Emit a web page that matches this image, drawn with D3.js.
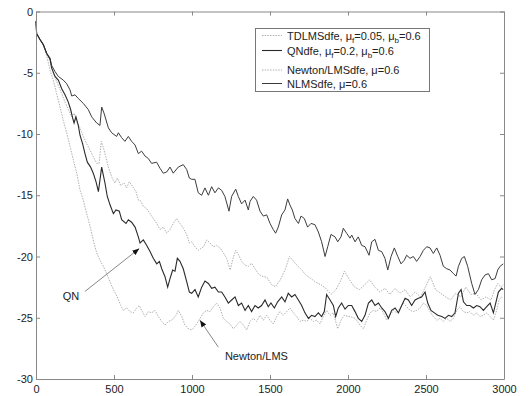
<!DOCTYPE html>
<html lang='en'>
<meta charset="utf-8">
<script src="https://d3js.org/d3.v7.min.js"></script>
<style>
body { margin: 0; background: #fff; }
text { font-family: "Liberation Sans", Arial, sans-serif; }
</style>
<body>
<svg id="chart" width="529" height="396"></svg>
<script>

// iteration axis and MSE axis ticks
var xTicks = [0, 500, 1000, 1500, 2000, 2500, 3000];
var yTicks = [0, -5, -10, -15, -20, -25, -30];

// curves, [iteration, dB]
var nlms = [[0,-0.8],[4,-1.8],[26,-2.3],[47,-2.7],[68,-3.4],[90,-3.8],[100,-4.4],[122,-4.9],[143,-5.3],[175,-5.6],[197,-5.9],[218,-6.4],[229,-6.9],[250,-6.8],[271,-7.1],[303,-7.5],[335,-8.0],[357,-8.6],[389,-9.1],[410,-9.3],[421,-7.8],[436,-8.3],[464,-9.5],[485,-9.9],[517,-10.2],[528,-9.9],[549,-10.3],[570,-10.6],[592,-10.2],[613,-10.6],[635,-10.9],[656,-11.6],[677,-11.4],[699,-11.8],[720,-12.0],[741,-12.4],[773,-12.3],[795,-12.8],[816,-13.2],[838,-13.1],[859,-12.7],[880,-13.2],[912,-12.7],[944,-12.5],[966,-12.9],[983,-13.6],[998,-13.7],[1019,-13.7],[1040,-14.8],[1062,-15.0],[1083,-14.4],[1105,-15.0],[1126,-14.3],[1147,-14.8],[1169,-14.4],[1190,-14.6],[1211,-15.1],[1237,-16.3],[1254,-15.1],[1280,-14.5],[1297,-15.1],[1318,-15.7],[1340,-15.4],[1361,-16.2],[1372,-15.5],[1393,-15.1],[1414,-15.4],[1436,-16.3],[1457,-16.7],[1479,-16.6],[1500,-17.3],[1521,-17.8],[1536,-18.1],[1553,-17.6],[1575,-16.6],[1596,-16.2],[1613,-15.3],[1628,-15.8],[1643,-16.2],[1660,-16.9],[1682,-17.3],[1699,-16.7],[1720,-16.9],[1741,-17.6],[1763,-17.3],[1788,-17.4],[1810,-18.0],[1831,-18.8],[1853,-20.0],[1870,-19.2],[1891,-18.2],[1917,-18.4],[1934,-18.8],[1955,-18.4],[1970,-17.7],[1991,-18.1],[2013,-18.5],[2024,-18.25],[2045,-18.8],[2066,-18.4],[2088,-19.1],[2109,-19.2],[2135,-19.9],[2152,-18.8],[2173,-18.6],[2195,-19.5],[2216,-19.6],[2237,-20.15],[2255,-21.1],[2276,-20.0],[2297,-19.3],[2319,-20.0],[2340,-20.6],[2361,-20.3],[2376,-19.9],[2398,-20.15],[2419,-20.0],[2440,-20.4],[2462,-20.0],[2483,-19.5],[2505,-19.2],[2526,-19.3],[2547,-19.75],[2569,-19.3],[2590,-19.9],[2611,-20.8],[2633,-21.0],[2654,-21.1],[2676,-21.4],[2693,-21.6],[2708,-20.8],[2729,-20.15],[2746,-20.0],[2767,-20.8],[2793,-22.2],[2814,-23.1],[2836,-22.7],[2857,-21.9],[2879,-21.5],[2900,-21.4],[2921,-21.9],[2943,-21.8],[2960,-21.1],[2975,-20.8],[2995,-20.6]];

var qn = [[0,-0.8],[4,-1.8],[26,-2.3],[47,-2.7],[68,-3.4],[90,-3.9],[100,-4.6],[122,-5.3],[143,-5.6],[165,-6.3],[186,-6.8],[207,-7.4],[222,-8.0],[235,-8.7],[244,-9.1],[256,-8.6],[271,-9.3],[282,-10.1],[299,-10.8],[314,-11.6],[329,-12.3],[350,-12.7],[367,-13.2],[385,-13.9],[400,-14.7],[421,-12.7],[442,-14.0],[457,-15.1],[475,-15.8],[496,-16.5],[513,-16.2],[534,-16.3],[549,-17.0],[577,-17.3],[592,-17.0],[613,-17.2],[635,-17.6],[656,-18.4],[667,-18.9],[688,-18.65],[710,-19.1],[731,-19.6],[752,-20.15],[774,-20.6],[791,-20.4],[806,-21.0],[827,-21.65],[844,-22.5],[859,-21.8],[876,-21.1],[891,-21.2],[906,-20.15],[923,-20.4],[944,-21.0],[966,-22.05],[983,-22.9],[998,-23.0],[1019,-22.7],[1040,-23.3],[1062,-22.5],[1083,-22.0],[1105,-22.2],[1126,-22.6],[1147,-22.5],[1169,-22.9],[1190,-22.9],[1211,-23.3],[1233,-23.8],[1254,-23.55],[1276,-23.3],[1297,-24.0],[1318,-23.8],[1340,-24.4],[1361,-24.0],[1382,-24.5],[1404,-24.0],[1425,-24.2],[1446,-24.0],[1468,-23.55],[1489,-24.1],[1506,-23.8],[1528,-24.2],[1549,-23.7],[1575,-23.3],[1596,-23.7],[1617,-23.0],[1639,-23.3],[1660,-23.1],[1682,-23.55],[1703,-24.0],[1724,-24.6],[1746,-25.05],[1767,-24.8],[1788,-24.9],[1810,-24.6],[1831,-24.9],[1848,-24.5],[1863,-23.1],[1885,-23.55],[1906,-24.0],[1921,-24.9],[1938,-24.2],[1959,-23.8],[1981,-24.3],[2002,-24.0],[2024,-24.0],[2045,-24.5],[2066,-25.05],[2088,-25.3],[2109,-24.8],[2131,-23.8],[2152,-23.55],[2173,-24.0],[2195,-23.8],[2216,-24.2],[2237,-24.5],[2259,-25.05],[2280,-24.4],[2302,-24.2],[2323,-24.6],[2344,-24.0],[2366,-23.4],[2387,-23.55],[2408,-24.0],[2430,-23.55],[2451,-23.4],[2472,-23.3],[2494,-22.9],[2511,-23.8],[2532,-24.4],[2554,-24.6],[2575,-24.8],[2601,-24.9],[2622,-25.05],[2644,-24.8],[2665,-24.9],[2686,-24.6],[2708,-23.0],[2725,-22.7],[2740,-23.7],[2761,-24.0],[2782,-24.0],[2804,-24.2],[2825,-24.0],[2846,-24.1],[2868,-24.4],[2889,-24.1],[2911,-23.8],[2932,-24.6],[2947,-23.8],[2964,-22.9],[2985,-22.6],[2995,-22.7]];

var newton = [[0,-0.8],[4,-1.8],[26,-2.3],[47,-2.8],[68,-3.6],[79,-4.2],[90,-4.8],[111,-5.6],[132,-6.7],[154,-7.8],[175,-8.9],[197,-9.9],[218,-11.0],[239,-12.1],[261,-13.2],[282,-14.57],[303,-15.4],[325,-16.5],[342,-17.3],[357,-18.1],[372,-18.9],[389,-19.7],[410,-20.3],[432,-20.8],[453,-21.4],[474,-22.05],[496,-22.7],[521,-23.3],[543,-24.0],[560,-24.4],[581,-24.2],[603,-24.5],[624,-24.6],[645,-24.2],[662,-24.0],[677,-24.4],[699,-24.9],[720,-24.5],[741,-24.6],[763,-24.4],[784,-24.9],[806,-25.3],[827,-25.6],[848,-25.3],[870,-25.2],[898,-24.8],[912,-24.4],[934,-24.9],[955,-25.6],[977,-25.9],[998,-26.0],[1019,-25.7],[1045,-25.2],[1073,-24.6],[1094,-24.4],[1115,-24.5],[1137,-24.1],[1158,-23.8],[1179,-24.2],[1201,-25.05],[1222,-25.3],[1243,-25.5],[1265,-25.9],[1286,-25.6],[1308,-25.3],[1329,-25.6],[1350,-26.0],[1372,-25.3],[1393,-25.05],[1414,-25.3],[1436,-24.8],[1457,-25.2],[1479,-24.8],[1500,-25.2],[1521,-25.5],[1543,-24.9],[1564,-24.5],[1585,-24.8],[1607,-24.5],[1628,-24.2],[1650,-24.6],[1671,-24.9],[1692,-25.3],[1714,-25.2],[1735,-25.3],[1756,-25.05],[1778,-25.3],[1799,-25.2],[1820,-25.5],[1842,-24.9],[1863,-24.4],[1885,-24.8],[1906,-24.6],[1934,-25.9],[1955,-25.2],[1976,-24.8],[2002,-24.9],[2013,-24.9],[2045,-25.05],[2077,-25.6],[2099,-25.9],[2120,-25.2],[2141,-24.6],[2163,-24.4],[2184,-24.5],[2205,-24.2],[2227,-24.6],[2248,-25.2],[2269,-24.8],[2291,-24.4],[2312,-24.6],[2334,-24.2],[2355,-23.8],[2376,-24.1],[2398,-24.4],[2419,-24.5],[2440,-24.4],[2462,-24.2],[2483,-23.8],[2505,-24.0],[2526,-24.5],[2547,-24.9],[2569,-25.2],[2590,-25.05],[2611,-25.3],[2633,-25.05],[2654,-25.3],[2676,-25.05],[2697,-24.4],[2718,-24.1],[2740,-24.5],[2761,-24.6],[2782,-24.5],[2804,-24.8],[2825,-24.6],[2846,-24.9],[2868,-24.8],[2889,-24.6],[2911,-24.9],[2932,-25.2],[2953,-24.4],[2968,-23.55],[2985,-23.3],[2995,-23.4]];

var tdlms = [[0,-0.8],[4,-1.8],[26,-2.3],[47,-2.7],[68,-3.4],[90,-4.0],[111,-5.0],[132,-5.7],[165,-6.7],[186,-7.4],[207,-8.0],[229,-8.6],[244,-8.3],[261,-9.0],[282,-9.5],[303,-10.2],[325,-10.8],[346,-11.3],[367,-11.85],[389,-12.4],[404,-12.4],[419,-10.6],[436,-11.3],[464,-12.7],[485,-13.5],[506,-14.0],[521,-13.6],[543,-14.2],[564,-14.0],[581,-14.4],[598,-13.9],[620,-14.3],[641,-14.7],[656,-15.4],[667,-15.4],[688,-15.9],[710,-16.1],[731,-16.5],[752,-16.9],[774,-17.3],[795,-17.8],[816,-17.6],[838,-18.1],[859,-17.8],[880,-17.3],[902,-16.9],[923,-17.3],[944,-17.7],[966,-18.2],[983,-18.9],[998,-18.8],[1019,-19.2],[1040,-19.5],[1073,-19.2],[1094,-18.65],[1115,-18.9],[1137,-19.2],[1158,-19.1],[1179,-19.3],[1201,-19.7],[1222,-20.15],[1245,-21.1],[1260,-20.3],[1280,-19.5],[1300,-19.9],[1318,-20.4],[1340,-20.7],[1361,-20.8],[1382,-20.55],[1404,-21.0],[1425,-21.4],[1446,-21.6],[1480,-21.7],[1510,-22.3],[1534,-22.46],[1567,-21.9],[1599,-21.0],[1625,-20.0],[1664,-20.6],[1696,-21.0],[1729,-21.5],[1761,-21.8],[1794,-22.1],[1826,-22.3],[1858,-22.6],[1891,-23.1],[1923,-22.7],[1956,-21.9],[1977,-21.2],[2010,-21.9],[2042,-22.5],[2075,-22.7],[2107,-22.3],[2139,-21.9],[2172,-22.5],[2204,-22.9],[2237,-22.6],[2269,-23.1],[2301,-22.6],[2334,-23.0],[2366,-22.7],[2399,-23.3],[2431,-22.9],[2464,-23.3],[2496,-22.5],[2528,-21.65],[2561,-22.7],[2593,-23.0],[2626,-23.3],[2658,-23.55],[2690,-23.0],[2723,-23.3],[2755,-22.5],[2788,-23.1],[2820,-23.0],[2853,-23.55],[2885,-23.3],[2917,-23.55],[2939,-22.7],[2961,-22.2],[2982,-22.5],[2995,-22.3]];

var svg = d3.select("#chart");

var x = d3.scaleLinear().domain([0, 3000]).range([36, 504]);
var y = d3.scaleLinear().domain([-30, 0]).range([379, 11.5]);

var line = d3.line()
	.x(function(d){ return x(d[0]); })
	.y(function(d){ return y(d[1]); });

// draw the curves: dotted light ones first, solid dark on top
var series = [
	{data: tdlms,  color: "#b0b0b0", dash: "1.5,1.2", width: 1},
	{data: newton, color: "#b0b0b0", dash: "1.5,1.2", width: 1},
	{data: nlms,   color: "#3c3c3c", dash: null,      width: 1},
	{data: qn,     color: "#2a2a2a", dash: null,      width: 1.1}
];

series.forEach(function(s){
	svg.append("path")
		.datum(s.data)
		.attr("d", line)
		.attr("fill", "none")
		.attr("stroke", s.color)
		.attr("stroke-width", s.width)
		.attr("stroke-dasharray", s.dash);
});

// box with inward ticks on all sides
var plain = function(d){ return String(d); };

function styleAxis(g){
	g.selectAll(".domain").attr("stroke", "#888");
	g.selectAll(".tick line").attr("stroke", "#888");
	g.selectAll("text").attr("fill", "#222").style("font-size", "11px");
}

svg.append("g")
	.attr("transform", "translate(0," + y(-30) + ")")
	.call(d3.axisBottom(x).tickValues(xTicks).tickFormat(plain).tickSizeInner(-4).tickSizeOuter(0).tickPadding(6))
	.call(styleAxis);

svg.append("g")
	.attr("transform", "translate(0," + y(0) + ")")
	.call(d3.axisTop(x).tickValues(xTicks).tickSizeInner(-4).tickSizeOuter(0).tickFormat(""))
	.call(styleAxis);

svg.append("g")
	.attr("transform", "translate(" + x(0) + ",0)")
	.call(d3.axisLeft(y).tickValues(yTicks).tickFormat(plain).tickSizeInner(-4).tickSizeOuter(0).tickPadding(3))
	.call(styleAxis);

svg.append("g")
	.attr("transform", "translate(" + x(3000) + ",0)")
	.call(d3.axisRight(y).tickValues(yTicks).tickSizeInner(-4).tickSizeOuter(0).tickFormat(""))
	.call(styleAxis);

// legend
var legend = svg.append("g");
legend.append("rect")
	.attr("x", 255.5).attr("y", 28.5)
	.attr("width", 174).attr("height", 63)
	.attr("fill", "#fff")
	.attr("stroke", "#777");

var legendRows = [
	{parts: [["TDLMSdfe, \u03bc"], ["f", 1], ["=0.05, \u03bc"], ["b", 1], ["=0.6"]], base: 39.5, s: series[0]},
	{parts: [["QNdfe, \u03bc"], ["f", 1], ["=0.2, \u03bc"], ["b", 1], ["=0.6"]], base: 54.5, s: series[3]},
	{parts: [["Newton/LMSdfe, \u03bc=0.6"]], base: 74, s: series[1]},
	{parts: [["NLMSdfe, \u03bc=0.6"]], base: 87.5, s: series[2]}
];

legendRows.forEach(function(r){
	legend.append("line")
		.attr("x1", 262).attr("x2", 282)
		.attr("y1", r.base - 4).attr("y2", r.base - 4)
		.attr("stroke", r.s.color)
		.attr("stroke-width", r.s.width)
		.attr("stroke-dasharray", r.s.dash);
	var t = legend.append("text")
		.attr("x", 287).attr("y", r.base)
		.attr("fill", "#222")
		.style("font-size", "11px");
	r.parts.forEach(function(p){
		var ts = t.append("tspan").text(p[0]);
		if (p[1]) {
			ts.attr("dy", 3).style("font-size", "8px");
		} else if (t.selectAll("tspan").size() > 1) {
			ts.attr("dy", -3);
		}
	});
});

// annotations with arrows
svg.append("defs").append("marker")
	.attr("id", "head")
	.attr("viewBox", "0 0 10 10")
	.attr("refX", 10).attr("refY", 5)
	.attr("markerWidth", 7).attr("markerHeight", 7)
	.attr("orient", "auto")
	.append("path")
	.attr("d", "M0,1 L10,5 L0,9 z")
	.attr("fill", "#111");

var notes = [
	{label: "QN", tx: 224, ty: -23.55, from: [314, -22.85], to: [662, -19.35], anchor: "middle"},
	{label: "Newton/LMS", tx: 1211, ty: -28.45, from: [1169, -27.4], to: [1051, -25.2], anchor: "start"}
];

notes.forEach(function(n){
	svg.append("line")
		.attr("x1", x(n.from[0])).attr("y1", y(n.from[1]))
		.attr("x2", x(n.to[0])).attr("y2", y(n.to[1]))
		.attr("stroke", "#888")
		.attr("stroke-width", 1)
		.attr("marker-end", "url(#head)");
	svg.append("text")
		.attr("x", x(n.tx)).attr("y", y(n.ty))
		.attr("text-anchor", n.anchor)
		.attr("fill", "#222")
		.style("font-size", "11px")
		.text(n.label);
});

</script>
</body>
</html>
